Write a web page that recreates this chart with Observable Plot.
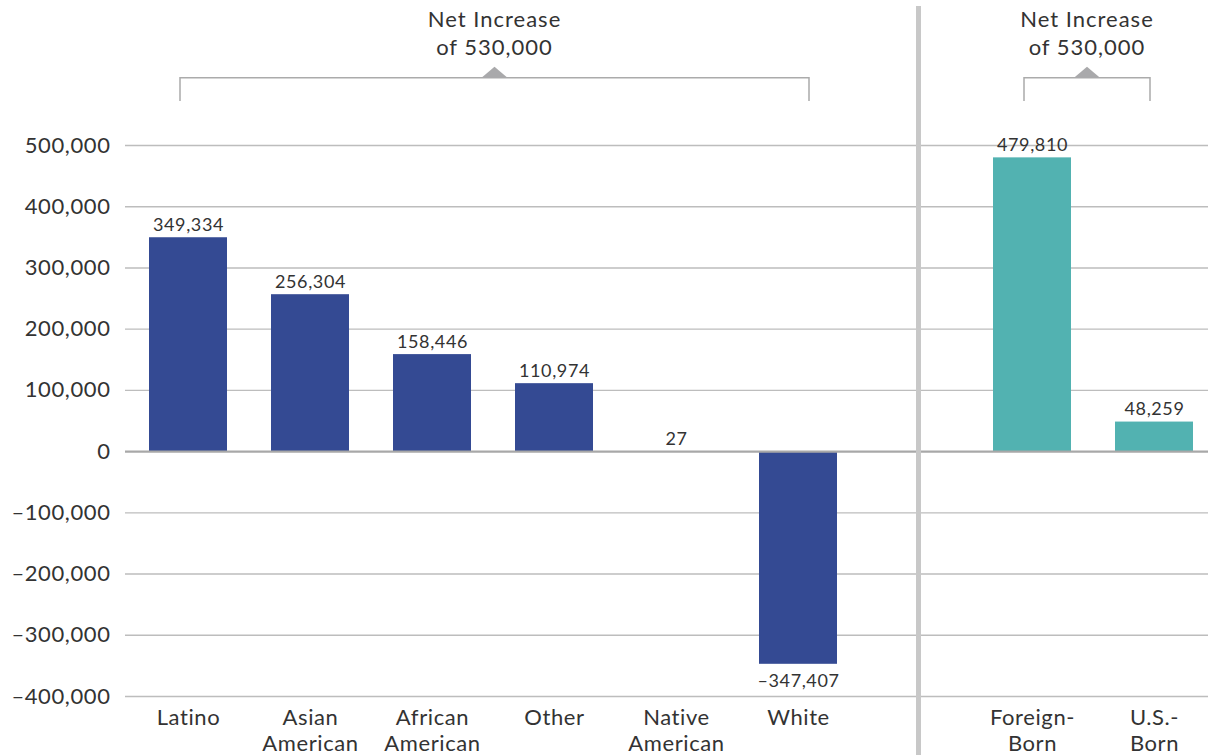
<!DOCTYPE html>
<html><head><meta charset="utf-8">
<script src="https://cdn.jsdelivr.net/npm/d3@7"></script>
<script src="https://cdn.jsdelivr.net/npm/@observablehq/plot@0.6"></script>
<style>
html,body{margin:0;padding:0;background:#fff;}
#chart{position:relative;width:1208px;height:755px;font-family:Lato,sans-serif;overflow:hidden;}
#left{position:absolute;left:0;top:0;}
#right{position:absolute;left:921px;top:0;}
#divider{position:absolute;left:916px;top:6px;width:5px;height:749px;background:#c8c8c8;}
</style></head><body>
<div id="chart"><div id="left"></div><div id="right"></div><div id="divider"></div></div>
<script>
// ---- data ----
const raceCategories = ["Latino", "Asian American", "African American", "Other", "Native American", "White"];
const raceValues = [349334, 256304, 158446, 110974, 27, -347407];
const nativityCategories = ["Foreign-Born", "U.S.-Born"];
const nativityValues = [479810, 48259];
const yTicks = [-400000, -300000, -200000, -100000, 0, 100000, 200000, 300000, 400000, 500000];
const categoryLabels = {
  "Latino": "Latino",
  "Asian American": "Asian\nAmerican",
  "African American": "African\nAmerican",
  "Other": "Other",
  "Native American": "Native\nAmerican",
  "White": "White",
  "Foreign-Born": "Foreign-\nBorn",
  "U.S.-Born": "U.S.-\nBorn"
};
const annotationLines = ["Net Increase", "of 530,000"];

// ---- helpers ----
const comma = d3.format(",");
const fmt = v => (v < 0 ? "\u2013" : "") + comma(Math.abs(v));
const TEXT = "#333";

function panel({cats, values, fill, width, marginLeft, xRange, showY}) {
  const data = cats.map((c, i) => ({cat: c, value: values[i]}));
  const marks = [
    Plot.ruleY(yTicks.filter(t => t !== 0), {stroke: "#bdbdbd", strokeWidth: 1.4}),
    Plot.barY(data, {x: "cat", y: "value", fill}),
    Plot.ruleY([0], {stroke: "#a8a8a8", strokeWidth: 2.4}),
    Plot.text(data.filter(d => d.value >= 0), {x: "cat", y: "value", text: d => fmt(d.value),
      lineAnchor: "bottom", dy: -7, fontSize: 18, fill: TEXT}),
    Plot.text(data.filter(d => d.value < 0), {x: "cat", y: "value", text: d => fmt(d.value),
      lineAnchor: "top", dy: 10, fontSize: 18, fill: TEXT}),
    Plot.text(cats, {x: d => d, frameAnchor: "bottom", text: d => categoryLabels[d],
      lineAnchor: "top", dy: 10, fontSize: 22, lineHeight: 1.18, fill: TEXT})
  ];
  if (showY) marks.push(Plot.text(yTicks, {y: d => d, frameAnchor: "left", textAnchor: "end",
    dx: -15, text: d => fmt(d), fontSize: 22, fill: TEXT}));
  return Plot.plot({
    width, height: 755,
    marginLeft, marginRight: 0, marginTop: 145, marginBottom: 59,
    x: {domain: cats, range: xRange, paddingInner: 0.357, paddingOuter: 0, axis: null},
    y: {domain: [-400000, 500000], axis: null},
    style: {fontFamily: "Lato, sans-serif", letterSpacing: "0.6px", background: "white", overflow: "visible"},
    marks
  });
}

function bracket(plot, from, to, padL, padR, lines) {
  const xs = plot.scale("x"), ys = plot.scale("y");
  const band = xs.apply ? (c => xs.apply(c)) :
    d3.scaleBand().domain(xs.domain).range(xs.range).paddingInner(xs.paddingInner).paddingOuter(xs.paddingOuter).align(xs.align ?? 0.5);
  const yApply = ys.apply ? (v => ys.apply(v)) : d3.scaleLinear().domain(ys.domain).range(ys.range);
  const bw = xs.bandwidth;
  const x0 = band(from) + bw / 2 + padL;
  const x1 = band(to) + bw / 2 + padR;
  const yHi = yApply(610000), yLo = yApply(572000);
  const m = (x0 + x1) / 2;
  const svg = d3.select(plot);
  svg.append("path").attr("d", `M${x0},${yLo}V${yHi}H${x1}V${yLo}`)
    .attr("fill", "none").attr("stroke", "#ababab").attr("stroke-width", 1.5);
  svg.append("path").attr("d", `M${m - 13},${yHi}L${m},${yHi - 11}L${m + 13},${yHi}Z`).attr("fill", "#a9a9ab");
  const t = svg.append("text").attr("text-anchor", "middle").attr("font-size", 22)
    .attr("fill", TEXT).attr("letter-spacing", "1px");
  lines.forEach((l, i) => t.append("tspan").attr("x", m)
    .attr("y", yHi - 23 - (lines.length - 1 - i) * 28).text(l));
}

const left = panel({cats: raceCategories, values: raceValues, fill: "#344a93",
  width: 916, marginLeft: 125, xRange: [147, 839], showY: true});
const right = panel({cats: nativityCategories, values: nativityValues, fill: "#52b2b1",
  width: 287, marginLeft: 0, xRange: [71, 273], showY: false});
document.getElementById("left").appendChild(left);
document.getElementById("right").appendChild(right);
bracket(left, "Latino", "White", -8, 11, annotationLines);
bracket(right, "Foreign-Born", "U.S.-Born", -8, -4, annotationLines);
</script>
</body></html>
